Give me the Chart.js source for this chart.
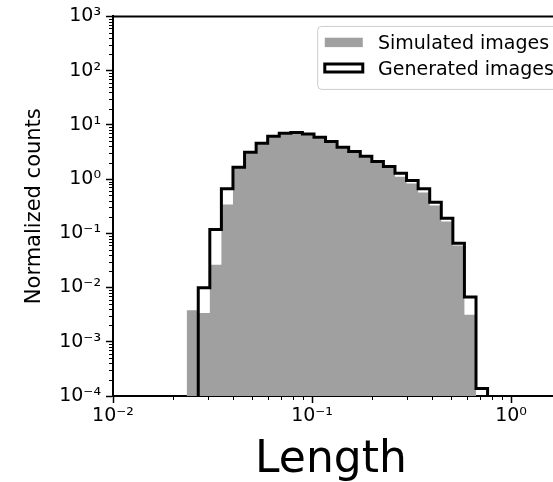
<!DOCTYPE html>
<html>
<head>
<meta charset="utf-8">
<script src="https://cdn.jsdelivr.net/npm/chart.js@4.4.1/dist/chart.umd.min.js"></script>
<style>
  html, body { margin: 0; padding: 0; overflow: hidden; background: #fff; }
  #wrap { width: 600px; height: 482px; }
</style>
</head>
<body>
<div id="wrap"><canvas id="hist"></canvas></div>
<script>
// bin edges of the histogram (log spaced)
const binEdges = [0.02344, 0.02681, 0.03065, 0.03504, 0.04006, 0.04581, 0.05237, 0.05985, 0.06843,
  0.07824, 0.08944, 0.1023, 0.1169, 0.1336, 0.1528, 0.1747, 0.1997, 0.2283, 0.2610, 0.2984,
  0.3412, 0.3901, 0.4460, 0.5099, 0.5829, 0.6665, 0.7619];

// normalized counts per bin (null = empty bin)
const simulated = [0.0038, 0.0034, 0.0264, 0.34, 1.6, 3.0, 4.4, 5.9, 6.7, 6.9, 6.5, 5.65, 4.7,
  3.7, 3.08, 2.52, 2.0, 1.62, 1.11, 0.83, 0.566, 0.326, 0.165, 0.0597, 0.00316, null];
const generated = [null, 0.0099, 0.118, 0.662, 1.66, 3.13, 4.58, 6.16, 7.0, 7.21, 6.77, 5.9, 4.92,
  3.86, 3.22, 2.64, 2.11, 1.71, 1.28, 0.94, 0.662, 0.375, 0.19, 0.0659, 0.00667, 0.000137];

const seriesLabels = ['Simulated images', 'Generated images'];
const xTickValues = [0.01, 0.1, 1];
const xTickLabels = ['10⁻²', '10⁻¹', '10⁰'];
const yTickValues = [1e-4, 1e-3, 1e-2, 1e-1, 1, 10, 100, 1000];
const yTickLabels = ['10⁻⁴', '10⁻³', '10⁻²', '10⁻¹', '10⁰', '10¹', '10²', '10³'];
const xLimits = [0.01, 2];
const yLimits = [1e-4, 1e3];

const FONT = '"DejaVu Sans", sans-serif';

// outline of a step histogram, starting and ending on the bottom of the axis
const stepPoints = (counts) => {
  const first = counts.findIndex(v => v !== null);
  let last = counts.length - 1;
  while (counts[last] === null) last--;
  const pts = [{ x: binEdges[first], y: yLimits[0] }];
  for (let k = first; k <= last; k++) pts.push({ x: binEdges[k + 1], y: counts[k] });
  pts.push({ x: binEdges[last + 1], y: yLimits[0] });
  return pts;
};

const labelFor = (values, labels) => v => {
  const i = values.findIndex(t => Math.abs(t - v) / t < 1e-9);
  return i >= 0 ? labels[i] : '';
};

// minor log ticks 2..9 for each decade
const minorValues = (min, max) => {
  const out = [];
  for (let e = Math.floor(Math.log10(min)); e <= Math.ceil(Math.log10(max)); e++) {
    for (let m = 2; m <= 9; m++) {
      const v = m * Math.pow(10, e);
      if (v > min && v < max) out.push(v);
    }
  }
  return out;
};

// box, minor ticks and the big x label
const frame = {
  id: 'frame',
  afterDraw(chart) {
    const { ctx, chartArea: a, scales: { x, y } } = chart;
    ctx.save();
    ctx.strokeStyle = '#000';
    ctx.lineWidth = 1;
    ctx.beginPath();
    minorValues(x.min, x.max).forEach(v => {
      const px = Math.round(x.getPixelForValue(v)) + 0.5;
      ctx.moveTo(px, a.bottom); ctx.lineTo(px, a.bottom + 4);
    });
    minorValues(y.min, y.max).forEach(v => {
      const py = Math.round(y.getPixelForValue(v)) + 0.5;
      ctx.moveTo(a.left, py); ctx.lineTo(a.left - 4, py);
    });
    ctx.stroke();
    ctx.lineWidth = 2;
    ctx.beginPath();
    ctx.moveTo(a.left, a.top); ctx.lineTo(a.right, a.top); ctx.lineTo(a.right, a.bottom);
    ctx.stroke();

    ctx.fillStyle = '#000';
    ctx.font = `44px ${FONT}`;
    ctx.textAlign = 'center';
    ctx.textBaseline = 'alphabetic';
    ctx.fillText('Length', a.left + 218, a.bottom + 76);
    ctx.restore();
  }
};

// matplotlib style legend in the upper right corner
const boxLegend = {
  id: 'boxLegend',
  afterDraw(chart) {
    const { ctx, chartArea: a } = chart;
    const fs = 19;
    const sets = chart.data.datasets;
    ctx.save();
    ctx.font = `${fs}px ${FONT}`;
    const textW = Math.max(...sets.map(d => ctx.measureText(d.label).width));
    const right = a.right - 0.5 * fs;
    const top = a.top + 0.5 * fs;
    const textX = right - 0.4 * fs - textW;
    const handleX = textX - 0.8 * fs - 2 * fs;
    const left = handleX - 0.4 * fs;
    const bottom = top + 63;

    ctx.beginPath();
    ctx.roundRect(left + 0.5, top + 0.5, right - left, bottom - top, 4);
    ctx.fillStyle = 'rgba(255,255,255,0.8)';
    ctx.fill();
    ctx.strokeStyle = '#cccccc';
    ctx.lineWidth = 1;
    ctx.stroke();

    sets.forEach((d, i) => {
      const cy = top + 16.5 + i * 25.6;
      if (d.fill) {
        ctx.fillStyle = d.backgroundColor;
        ctx.fillRect(handleX, cy - 4.7, 2 * fs, 9.4);
      } else {
        ctx.strokeStyle = d.borderColor;
        ctx.lineWidth = d.borderWidth;
        ctx.lineJoin = 'miter';
        ctx.strokeRect(handleX, cy - 4, 2 * fs, 8);
      }
      ctx.fillStyle = '#000';
      ctx.textBaseline = 'alphabetic';
      ctx.fillText(d.label, textX, cy + 6.6);
    });
    ctx.restore();
  }
};

new Chart(document.getElementById('hist'), {
  type: 'line',
  data: {
    datasets: [
      {
        label: seriesLabels[0],
        data: stepPoints(simulated),
        stepped: 'after',
        fill: 'start',
        backgroundColor: '#a0a0a0',
        borderWidth: 0,
        pointRadius: 0,
        order: 1
      },
      {
        label: seriesLabels[1],
        data: stepPoints(generated),
        stepped: 'after',
        fill: false,
        borderColor: '#000000',
        borderWidth: 3,
        borderJoinStyle: 'miter',
        borderCapStyle: 'butt',
        pointRadius: 0,
        order: 0
      }
    ]
  },
  options: {
    responsive: true,
    maintainAspectRatio: false,
    animation: false,
    layout: { padding: { top: 16, right: 29, left: 0, bottom: 0 } },
    plugins: { legend: { display: false }, tooltip: { enabled: false } },
    scales: {
      x: {
        type: 'logarithmic',
        min: xLimits[0],
        max: xLimits[1],
        afterBuildTicks: s => { s.ticks = xTickValues.map(v => ({ value: v, major: true })); },
        afterFit: s => { s.height = 86; },
        border: { display: true, color: '#000', width: 2 },
        grid: { drawOnChartArea: false, drawTicks: true, tickLength: 7, tickWidth: 1.5, tickColor: '#000' },
        ticks: {
          autoSkip: false, maxRotation: 0, color: '#000', padding: 2,
          font: { family: FONT, size: 19 },
          callback: labelFor(xTickValues, xTickLabels)
        }
      },
      y: {
        type: 'logarithmic',
        min: yLimits[0],
        max: yLimits[1],
        afterBuildTicks: s => { s.ticks = yTickValues.map(v => ({ value: v, major: true })); },
        afterFit: s => { s.width = 113; },
        border: { display: true, color: '#000', width: 2 },
        grid: { drawOnChartArea: false, drawTicks: true, tickLength: 7, tickWidth: 1.5, tickColor: '#000' },
        ticks: {
          autoSkip: false, color: '#000', padding: 5,
          font: { family: FONT, size: 19 },
          callback: labelFor(yTickValues, yTickLabels)
        },
        title: {
          display: true, text: 'Normalized counts', color: '#000',
          font: { family: FONT, size: 21 }, padding: { top: 22, bottom: 0 }
        }
      }
    }
  },
  plugins: [frame, boxLegend]
});
</script>
</body>
</html>
